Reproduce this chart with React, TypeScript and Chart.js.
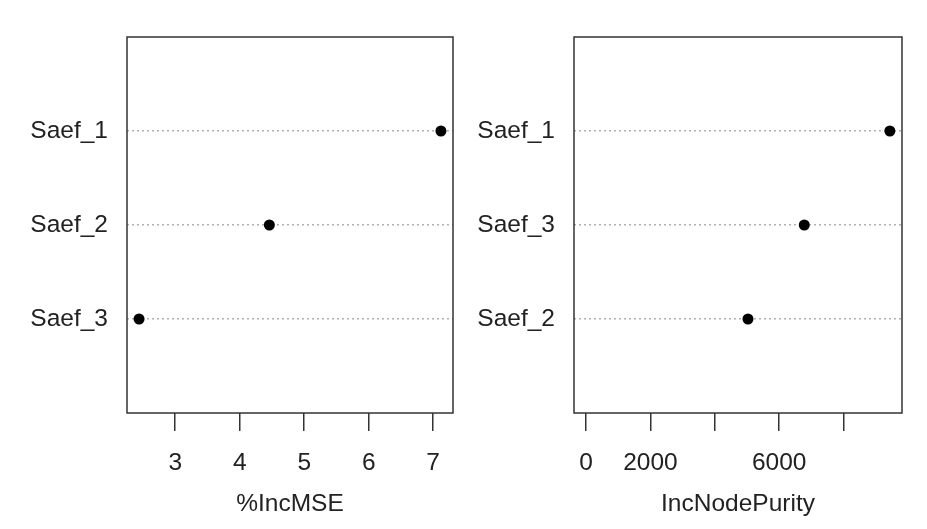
import React, { useEffect, useRef } from "react";
import { Chart, registerables } from "chart.js";

Chart.register(...registerables);

// Left panel (%IncMSE), listed bottom to top
const mseLabels = ["Saef_3", "Saef_2", "Saef_1"];
const mseValues = [2.44, 4.46, 7.12];
const mseTicks = [3, 4, 5, 6, 7];
const mseTickLabels = ["3", "4", "5", "6", "7"];

// Right panel (IncNodePurity), listed bottom to top
const purityLabels = ["Saef_2", "Saef_3", "Saef_1"];
const purityValues = [5030, 6780, 9440];
const purityTicks = [0, 2000, 4000, 6000, 8000];
const purityTickLabels = ["0", "2000", "", "6000", ""];

const FONT = "'Liberation Sans', Arial, Helvetica, sans-serif";
const INK = "#222";
const FSIZE = 24.5;

const boxPlugin = {
  id: "box",
  afterDraw(chart: any) {
    const { ctx, chartArea: a } = chart;
    ctx.save();
    ctx.strokeStyle = "#333";
    ctx.lineWidth = 1.5;
    ctx.strokeRect(a.left, a.top, a.right - a.left, a.bottom - a.top);
    ctx.restore();
  },
};

function makeConfig(
  labels: string[],
  values: number[],
  ticks: number[],
  tickLabels: string[],
  title: string,
  xmin: number,
  xmax: number,
  yAxisWidth: number,
  rightPad: number
): any {
  return {
    type: "scatter",
    data: {
      datasets: [
        {
          data: values.map((v, i) => ({ x: v, y: i + 1 })),
          backgroundColor: "#000",
          borderColor: "#000",
          borderWidth: 0,
          pointRadius: 5.5,
          pointStyle: "circle",
        },
      ],
    },
    options: {
      animation: false,
      responsive: false,
      layout: { padding: { top: 37, right: rightPad, bottom: 0, left: 0 } },
      plugins: { legend: { display: false }, tooltip: { enabled: false } },
      scales: {
        x: {
          type: "linear",
          min: xmin,
          max: xmax,
          afterBuildTicks: (s: any) => {
            s.ticks = ticks.map((v) => ({ value: v }));
          },
          afterFit: (s: any) => {
            s.height = 116;
          },
          ticks: {
            autoSkip: false,
            maxRotation: 0,
            padding: 18,
            color: INK,
            font: { family: FONT, size: FSIZE },
            callback: (v: number) => {
              const i = ticks.indexOf(v);
              return i >= 0 ? tickLabels[i] : "";
            },
          },
          grid: {
            drawOnChartArea: false,
            drawTicks: true,
            tickLength: 18,
            color: "#333",
            lineWidth: 1.5,
          },
          border: { display: false },
          title: {
            display: true,
            text: title,
            color: INK,
            font: { family: FONT, size: FSIZE },
            padding: { top: 0, bottom: 10 },
          },
        },
        y: {
          type: "linear",
          min: 0,
          max: labels.length + 1,
          afterBuildTicks: (s: any) => {
            s.ticks = labels.map((_, i) => ({ value: i + 1 }));
          },
          afterFit: (s: any) => {
            s.width = yAxisWidth;
          },
          ticks: {
            autoSkip: false,
            padding: 19,
            color: INK,
            font: { family: FONT, size: FSIZE },
            callback: (v: number) => labels[v - 1] ?? "",
          },
          grid: {
            drawOnChartArea: true,
            drawTicks: false,
            color: "#b0b0b0",
            lineWidth: 1.6,
          },
          border: { display: false, dash: [2, 3] },
        },
      },
    },
    plugins: [boxPlugin],
  };
}

function Panel(props: { left: number; width: number; build: () => any }) {
  const ref = useRef<HTMLCanvasElement | null>(null);
  useEffect(() => {
    if (!ref.current) return;
    const chart = new Chart(ref.current, props.build());
    return () => chart.destroy();
  }, []);
  return (
    <canvas
      ref={ref}
      width={props.width}
      height={529}
      style={{
        position: "absolute",
        left: props.left,
        top: 0,
        width: props.width,
        height: 529,
      }}
    />
  );
}

export default function App() {
  const mseMin = Math.min(...mseValues);
  const mseMax = Math.max(...mseValues);
  const mseR = mseMax - mseMin;
  const purMax = Math.max(...purityValues);
  return (
    <div
      style={{
        position: "absolute",
        left: 0,
        top: 0,
        width: 927,
        height: 529,
        background: "#fff",
        overflow: "hidden",
      }}
    >
      <Panel
        left={0}
        width={463}
        build={() =>
          makeConfig(
            mseLabels,
            mseValues,
            mseTicks,
            mseTickLabels,
            "%IncMSE",
            mseMin - 0.04 * mseR,
            mseMax + 0.04 * mseR,
            127,
            10
          )
        }
      />
      <Panel
        left={463}
        width={464}
        build={() =>
          makeConfig(
            purityLabels,
            purityValues,
            purityTicks,
            purityTickLabels,
            "IncNodePurity",
            -0.04 * purMax,
            1.04 * purMax,
            111,
            25
          )
        }
      />
    </div>
  );
}
